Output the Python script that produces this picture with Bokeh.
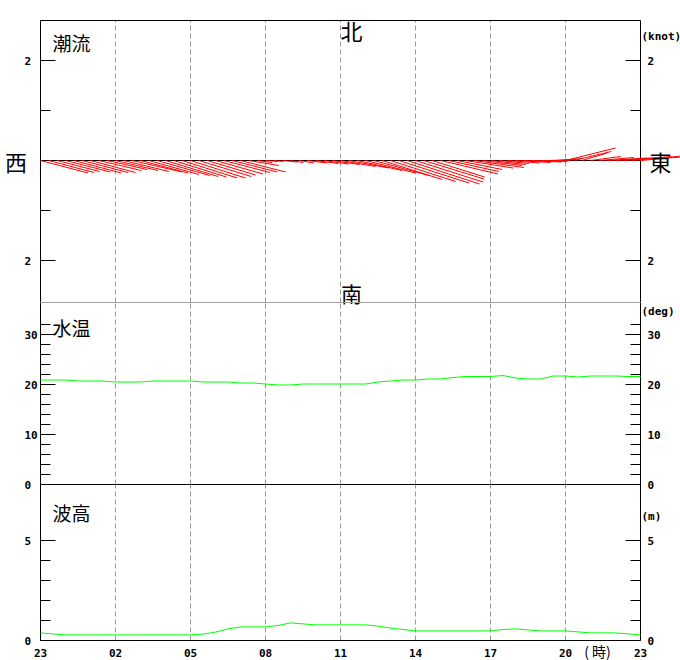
from bokeh.plotting import figure
from bokeh.models import Range1d, ColumnDataSource
from bokeh.embed import file_html
from bokeh.resources import INLINE
from bokeh.core.properties import value
import numpy as np

# ---------------- data ----------------
hour_ticks = [0, 3, 6, 9, 12, 15, 18, 21, 24]
hour_labels = ["23", "02", "05", "08", "11", "14", "17", "20", "23"]
grid_hours = [3, 6, 9, 12, 15, 18, 21]

# tidal current every 20 minutes: east / north components (knot)
cur_east = [0.95, 0.90, 0.85, 0.90, 0.95, 0.92, 0.90, 0.85, 0.80, 0.85,
            0.90, 1.00, 0.95, 1.00, 1.05, 1.05, 1.05, 1.10, 1.10, 1.05,
            0.97, 0.95, 0.92, 0.90, 0.90, 0.60, 0.30, 0.25, 0.20, 0.30,
            0.25, 0.30, 0.40, 0.45, 0.50, 0.55, 0.70, 0.80, 0.90, 1.00,
            1.10, 1.20, 1.30, 1.40, 1.45, 1.35, 1.20, 1.05, 1.15, 1.00,
            0.90, 0.95, 1.00, 0.80, 0.70, 0.60, 0.65, 0.70, 0.75, 0.70,
            0.60, 0.55, 0.50, 1.00, 0.75, 0.50, 0.60, 0.70, 0.80, 0.90,
            0.95, 1.00, 0.80]
cur_north = [-0.25, -0.24, -0.22, -0.23, -0.25, -0.24, -0.24, -0.20, -0.18, -0.20,
             -0.22, -0.23, -0.25, -0.28, -0.30, -0.32, -0.33, -0.35, -0.35, -0.32,
             -0.29, -0.27, -0.24, -0.23, -0.23, -0.10, -0.04, -0.02, -0.02, -0.03,
             -0.04, -0.05, -0.05, -0.06, -0.07, -0.08, -0.12, -0.15, -0.20, -0.25,
             -0.30, -0.38, -0.42, -0.45, -0.47, -0.43, -0.37, -0.33, -0.27, -0.22,
             -0.18, -0.15, -0.14, -0.10, -0.08, -0.06, -0.05, -0.04, -0.03, -0.02,
             0.00, 0.02, 0.04, 0.25, 0.18, 0.15, 0.08, 0.06, 0.05, 0.06,
             0.08, 0.09, 0.07]
cur_time = np.arange(len(cur_east)) / 3.0

# water temperature and wave height every 30 minutes
temp_vals = [20.9, 20.9, 20.9, 20.7, 20.7, 20.7, 20.5, 20.5, 20.5, 20.7,
             20.7, 20.7, 20.7, 20.5, 20.5, 20.5, 20.3, 20.3, 20.1, 19.9,
             19.9, 20.1, 20.1, 20.1, 20.1, 20.1, 20.1, 20.5, 20.7, 20.9,
             20.9, 21.1, 21.1, 21.4, 21.6, 21.6, 21.6, 21.8, 21.3, 21.1,
             21.1, 21.7, 21.7, 21.5, 21.7, 21.7, 21.7, 21.6, 21.6]
wave_vals = [0.38, 0.33, 0.28, 0.28, 0.28, 0.28, 0.28, 0.28, 0.28, 0.28,
             0.28, 0.28, 0.28, 0.32, 0.42, 0.58, 0.68, 0.68, 0.68, 0.75,
             0.88, 0.83, 0.78, 0.78, 0.78, 0.78, 0.78, 0.72, 0.62, 0.55,
             0.48, 0.48, 0.48, 0.48, 0.48, 0.48, 0.48, 0.55, 0.58, 0.53,
             0.48, 0.48, 0.48, 0.43, 0.38, 0.38, 0.38, 0.33, 0.28]
half_hours = np.arange(len(temp_vals)) * 0.5

cur_major, cur_minor = [-2, 2], [-1, 1]
cur_major_labels = ["2", "2"]
temp_major, temp_minor = [0, 10, 20, 30], [2, 4, 6, 8, 12, 14, 16, 18, 22, 24, 26, 28, 32]
temp_major_labels = ["0", "10", "20", "30"]
wave_major, wave_minor = [0, 5], [1, 2, 3, 4]
wave_major_labels = ["0", "5"]

# ---------------- styles / layout ----------------
MONO = "DejaVu Sans Mono"
CJK = "Noto Sans CJK JP"
GRID_COLOR = "#999999"
GREEN = "#00ff00"
T0, T1 = 0, 24               # time span (hours after 23:00)
MAJ, MIN = 0.6, 0.4          # tick lengths in hours (15px / 10px)
LBL_L, LBL_R = -0.64, 24.28  # tick label anchor positions

# one canvas, three vertical scales (25 px per hour horizontally)
p = figure(width=680, height=660, x_range=Range1d(-1.6, 25.6), y_range=Range1d(-10.0, 3.2),
           output_backend="svg", toolbar_location=None,
           x_axis_location=None, y_axis_location=None,
           min_border=0, min_border_left=0, min_border_right=0,
           min_border_top=0, min_border_bottom=0)
p.extra_y_ranges = {"temp": Range1d(-35.2, 96.8), "wave": Range1d(-1.0, 32.0)}
p.outline_line_color = None
p.background_fill_color = "white"
p.border_fill_color = "white"
p.xgrid.visible = False
p.ygrid.visible = False


def mono_text(xs, ys, texts, rng="default", align="left"):
    p.text(x=xs, y=ys, text=texts, text_align=align, text_baseline="middle",
           text_font=value(MONO), text_font_style="bold", text_font_size="11px",
           text_color="black", y_range_name=rng)


def cjk_text(x, y, txt, size, rng="default", align="left"):
    p.text(x=[x], y=[y], text=[txt], text_align=align, text_baseline="middle",
           text_font=value(CJK), text_font_size=size, text_color="black",
           y_range_name=rng)


def hline(y, rng, color="black"):
    p.segment(x0=[T0], y0=[y], x1=[T1], y1=[y], line_color=color, y_range_name=rng)


def panel(rng, y_lo, y_hi, major, minor, labels):
    n = len(grid_hours)
    p.segment(x0=grid_hours, y0=[y_lo] * n, x1=grid_hours, y1=[y_hi] * n,
              line_color=GRID_COLOR, line_dash="5 3", line_width=1, y_range_name=rng)
    p.segment(x0=[T0, T1], y0=[y_lo, y_lo], x1=[T0, T1], y1=[y_hi, y_hi],
              line_color="black", line_width=1, y_range_name=rng)
    m, k = len(major), len(minor)
    p.segment(x0=[T0] * m, y0=major, x1=[T0 + MAJ] * m, y1=major, line_color="black", y_range_name=rng)
    p.segment(x0=[T0] * k, y0=minor, x1=[T0 + MIN] * k, y1=minor, line_color="black", y_range_name=rng)
    p.segment(x0=[T1 - MAJ] * m, y0=major, x1=[T1] * m, y1=major, line_color="black", y_range_name=rng)
    p.segment(x0=[T1 - MIN] * k, y0=minor, x1=[T1] * k, y1=minor, line_color="black", y_range_name=rng)
    mono_text([LBL_L] * m, major, labels, rng)
    mono_text([LBL_R] * m, major, labels, rng)


# ---------------- panel 1: tidal current ----------------
panel("default", -2.84, 2.8, cur_major, cur_minor, cur_major_labels)
hline(2.8, "default")
hline(0, "default")

vec_src = ColumnDataSource(dict(
    x0=cur_time, y0=np.zeros(len(cur_time)),
    x1=cur_time + 2.0 * np.array(cur_east), y1=np.array(cur_north)))
p.segment(x0="x0", y0="y0", x1="x1", y1="y1", source=vec_src,
          line_color="#ff0000", line_width=1)

cjk_text(12.44, 2.62, "北", "22px", align="center")
cjk_text(12.44, -2.65, "南", "21px", align="center")
cjk_text(-0.98, 0.0, "西", "22px", align="center")
cjk_text(24.8, 0.0, "東", "22px", align="center")
cjk_text(0.48, 2.36, "潮流", "19px")
mono_text([24.04], [2.48], ["(knot)"])

# ---------------- panel 2: water temperature ----------------
panel("temp", 0, 36.4, temp_major, temp_minor, temp_major_labels)
hline(0, "temp")
p.line(half_hours, temp_vals, line_color=GREEN, line_width=1, y_range_name="temp")
cjk_text(0.48, 31.4, "水温", "19px", "temp")
mono_text([24.04], [34.6], ["(deg)"], "temp")

# ---------------- panel 3: wave height ----------------
panel("wave", 0, 7.8, wave_major, wave_minor, wave_major_labels)
p.line(half_hours, wave_vals, line_color=GREEN, line_width=1, y_range_name="wave")
hline(0, "wave")
mono_text(hour_ticks, [-0.6] * len(hour_ticks), hour_labels, "wave", align="center")
cjk_text(0.48, 6.4, "波高", "19px", "wave")
mono_text([24.04], [6.2], ["(m)"], "wave")
cjk_text(22.28, -0.5, "( 時)", "14px", "wave", align="center")

# gray separator between the current and temperature panels (drawn last)
hline(-2.84, "default", color="#a0a0a0")

open("out.html", "w").write(file_html(p, INLINE))
